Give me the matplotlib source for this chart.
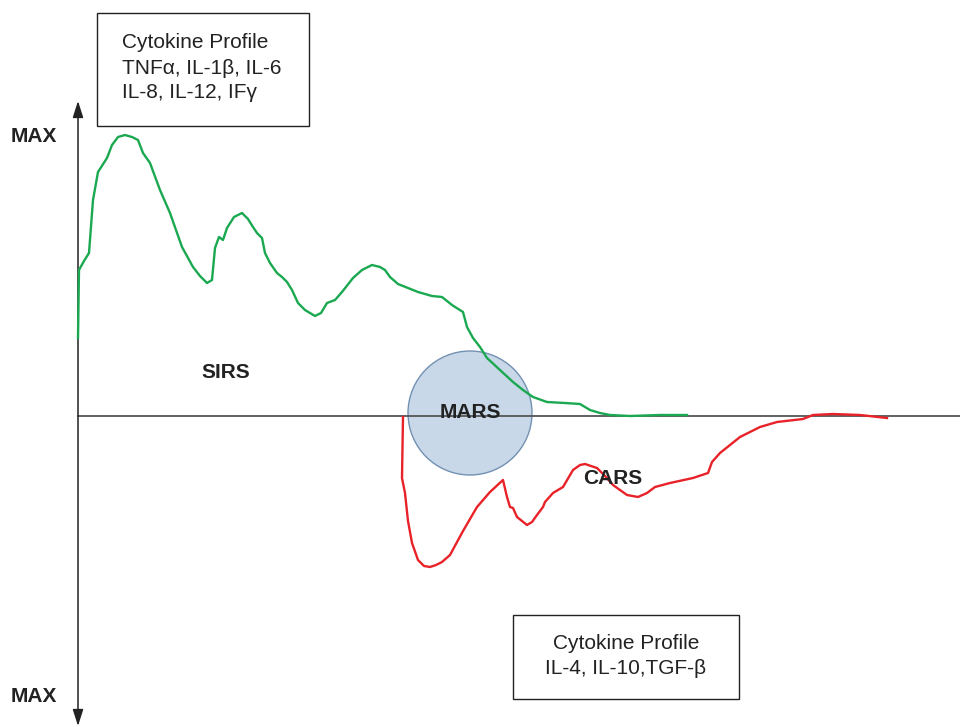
import matplotlib
matplotlib.use("Agg")
import matplotlib.pyplot as plt
from matplotlib.patches import Circle, Rectangle, FancyArrowPatch

plt.rcParams['font.family'] = ['Liberation Sans', 'DejaVu Sans']

# Time axis (pixel-like units) and response level (positive = pro-inflammatory, negative = anti-inflammatory)
sirs_t = [78, 79, 84, 89, 93, 98, 107, 112, 118, 125, 132, 138, 143, 150, 160, 170, 182, 193, 200, 207,
          212, 215, 219, 223, 227, 234, 242, 248, 253, 257, 262, 265, 270, 277, 282, 287, 292, 298, 305,
          315, 321, 327, 335, 342, 353, 362, 372, 380, 385, 390, 398, 408, 418, 432, 442, 452, 463, 467,
          473, 480, 487, 500, 513, 523, 533, 547, 565, 580, 590, 600, 610, 630, 660, 687]
sirs_v = [78, 146, 155, 163, 216, 244, 258, 271, 279, 281, 279, 276, 263, 253, 226, 203, 169, 149, 140, 133,
          136, 168, 179, 176, 188, 199, 203, 197, 189, 183, 178, 163, 153, 143, 139, 134, 126, 113, 106,
          100, 103, 113, 116, 124, 138, 146, 151, 149, 146, 139, 132, 128, 124, 120, 119, 111, 104, 89,
          78, 69, 58, 46, 34, 26, 19, 14, 13, 12, 6, 3, 1, 0, 1, 1]

cars_t = [403, 402, 405, 408, 412, 418, 424, 430, 436, 442, 450, 463, 477, 490, 503, 507, 510, 513, 517,
          522, 527, 532, 537, 543, 545, 553, 563, 573, 580, 585, 597, 605, 613, 627, 638, 647, 655, 670,
          693, 708, 712, 720, 740, 760, 777, 803, 813, 833, 860, 887]
cars_v = [-1, -62, -77, -105, -127, -144, -150, -151, -149, -146, -139, -115, -91, -76, -64, -81, -91, -92, -101,
          -105, -109, -106, -99, -91, -86, -77, -71, -54, -49, -48, -52, -60, -69, -79, -81, -77, -71, -67,
          -62, -57, -46, -37, -21, -11, -6, -3, 1, 2, 1, -2]

labels = {"SIRS": (226, 43), "MARS": (470, 3), "CARS": (613, -62)}
top_profile = "Cytokine Profile\nTNF\u03b1, IL-1\u03b2, IL-6\nIL-8, IL-12, IF\u03b3"
bottom_profile = "Cytokine Profile\nIL-4, IL-10,TGF-\u03b2"

fig = plt.figure(figsize=(9.6, 7.27), dpi=100)
ax = fig.add_axes([0, 0, 1, 1])
ax.set_xlim(0, 960)
ax.set_ylim(416 - 727, 416)
ax.axis('off')

# MARS circle
ax.add_patch(Circle((470, 3), 62, facecolor='#c8d8e8', edgecolor='#7391b2', linewidth=1.0, zorder=2))

# axes
ax.plot([78, 960], [0, 0], color='#555555', linewidth=1.3, zorder=3)
ax.add_patch(FancyArrowPatch((78, 416 - 726), (78, 416 - 101),
                             arrowstyle='<|-|>,head_length=1.0,head_width=0.32',
                             mutation_scale=10, color='#222222', linewidth=1.1,
                             shrinkA=0, shrinkB=0, zorder=3))

ax.plot(sirs_t, sirs_v, color='#1aa850', linewidth=1.7, zorder=4, solid_joinstyle='round')
ax.plot(cars_t, cars_v, color='#e82228', linewidth=1.7, zorder=4, solid_joinstyle='round')

for name, (x, y) in labels.items():
    ax.text(x, y, name, fontsize=15, fontweight='bold', color='#222222',
            ha='center', va='center', zorder=5)

ax.text(34, 416 - 137, "MAX", fontsize=15, fontweight='bold', color='#222222', ha='center', va='center')
ax.text(34, 416 - 697, "MAX", fontsize=15, fontweight='bold', color='#222222', ha='center', va='center')

# profile boxes
ax.add_patch(Rectangle((97, 416 - 126), 212, 113, facecolor='white', edgecolor='#222222', linewidth=1.0))
ax.text(122, 416 - 68, top_profile, fontsize=15, color='#222222', ha='left', va='center', linespacing=1.4)

ax.add_patch(Rectangle((513, 416 - 699), 226, 84, facecolor='white', edgecolor='#222222', linewidth=1.0))
ax.text(626, 416 - 656, bottom_profile, fontsize=15, color='#222222', ha='center', va='center', linespacing=1.4)

fig.savefig('out.png', dpi=100)
